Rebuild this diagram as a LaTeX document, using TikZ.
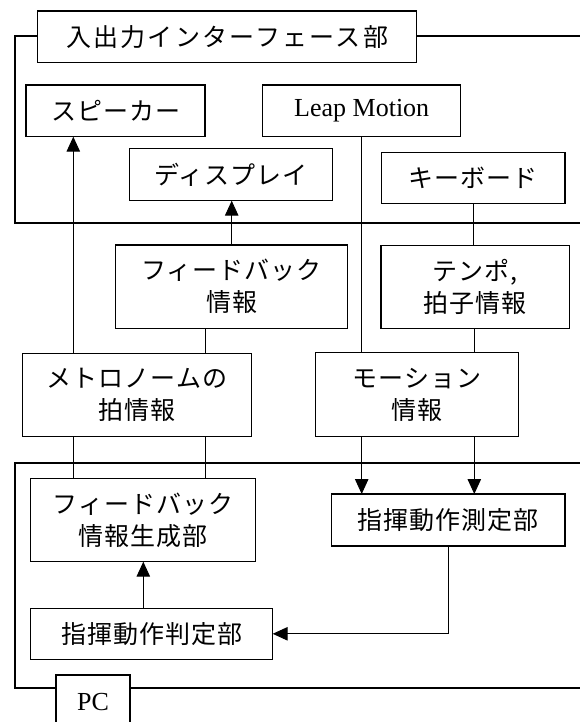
\documentclass[tikz,border=0pt]{standalone}
\usepackage{fontspec}
\setmainfont{Liberation Serif}
\newfontfamily\jp[LetterSpace=4]{Noto Sans CJK JP}
\newfontfamily\jpwide[LetterSpace=9]{Noto Sans CJK JP}
\usetikzlibrary{arrows.meta}
\begin{document}
\begin{tikzpicture}[x=1pt,y=-1pt,
  box/.style={draw,fill=white,line width=1.1pt,inner sep=0pt,outer sep=0pt,align=center,
    font=\jp\fontsize{25}{32}\selectfont},
  sz/.style 2 args={minimum width=#1pt,minimum height=#2pt},
  frame/.style={line width=1.8pt},
  wire/.style={line width=1pt},
  arr/.style={wire,-{Triangle[length=15pt,width=13.5pt]}}]
\useasboundingbox (0,0) rectangle (580,722);
% x positions of the vertical connectors
\coordinate (xa) at (73.3,0);
\coordinate (xb) at (205,0);
\coordinate (xc) at (231.7,0);
\coordinate (xd) at (361.7,0);
\coordinate (xe) at (473.3,0);
\coordinate (xf) at (474.3,0);
\coordinate (xg) at (448.3,0);
\coordinate (xh) at (143.3,0);
% frames
\draw[frame] (37.7,36.3) -- (15,36.3) -- (15,222.7) -- (582,222.7);
\draw[frame] (416.7,36.3) -- (582,36.3);
\draw[frame] (582,463.3) -- (15,463.3) -- (15,688.3) -- (56,688.3);
\draw[frame] (130,688.3) -- (582,688.3);
% nodes
\node[box,sz={379}{51.3},font=\jpwide\fontsize{25}{32}\selectfont] (title) at (227.2,36.65) {入出力インターフェース部};
\node[box,sz={179}{51.7}] (spk) at (115.5,110.85) {スピーカー};
\node[box,sz={198}{51.7},font=\fontsize{26}{30}\selectfont] (leap) at (361.7,110.85) {Leap Motion};
\node[box,sz={202.7}{52.4}] (disp) at (230.9,174.5) {ディスプレイ};
\node[box,sz={183.5}{51}] (kbd) at (473.2,177.8) {キーボード};
\node[box,sz={231.6}{83.3}] (fbi) at (231.5,286.65) {フィードバック\\情報};
\node[box,sz={188.3}{82.6}] (tempo) at (475.15,287) {テンポ,\\拍子情報};
\node[box,sz={229.4}{83.4}] (metro) at (137,395) {メトロノームの\\拍情報};
\node[box,sz={202.6}{84}] (motion) at (417,394.7) {モーション\\情報};
\node[box,sz={225}{83.4}] (fbgen) at (143.2,520) {フィードバック\\情報生成部};
\node[box,sz={233.3}{52}] (meas) at (448.35,520) {指揮動作測定部};
\node[box,sz={242}{51}] (judge) at (151.7,633.8) {指揮動作判定部};
\node[box,sz={74}{54},font=\fontsize{26}{30}\selectfont] (pc) at (93,702) {PC};
% connectors
\draw[arr] (metro.north -| xa) -- (spk.south -| xa);
\draw[wire] (fbgen.north -| xa) -- (metro.south -| xa);
\draw[wire] (fbgen.north -| xb) -- (metro.south -| xb);
\draw[wire] (metro.north -| xb) -- (fbi.south -| xb);
\draw[arr] (fbi.north -| xc) -- (disp.south -| xc);
\draw[wire] (leap.south -| xd) -- (motion.north -| xd);
\draw[wire] (kbd.south -| xe) -- (tempo.north -| xe);
\draw[wire] (tempo.south -| xf) -- (motion.north -| xf);
\draw[arr] (motion.south -| xd) -- (meas.north -| xd);
\draw[arr] (motion.south -| xf) -- (meas.north -| xf);
\draw[arr] (meas.south -| xg) |- (judge.east);
\draw[arr] (judge.north -| xh) -- (fbgen.south -| xh);
\end{tikzpicture}
\end{document}
